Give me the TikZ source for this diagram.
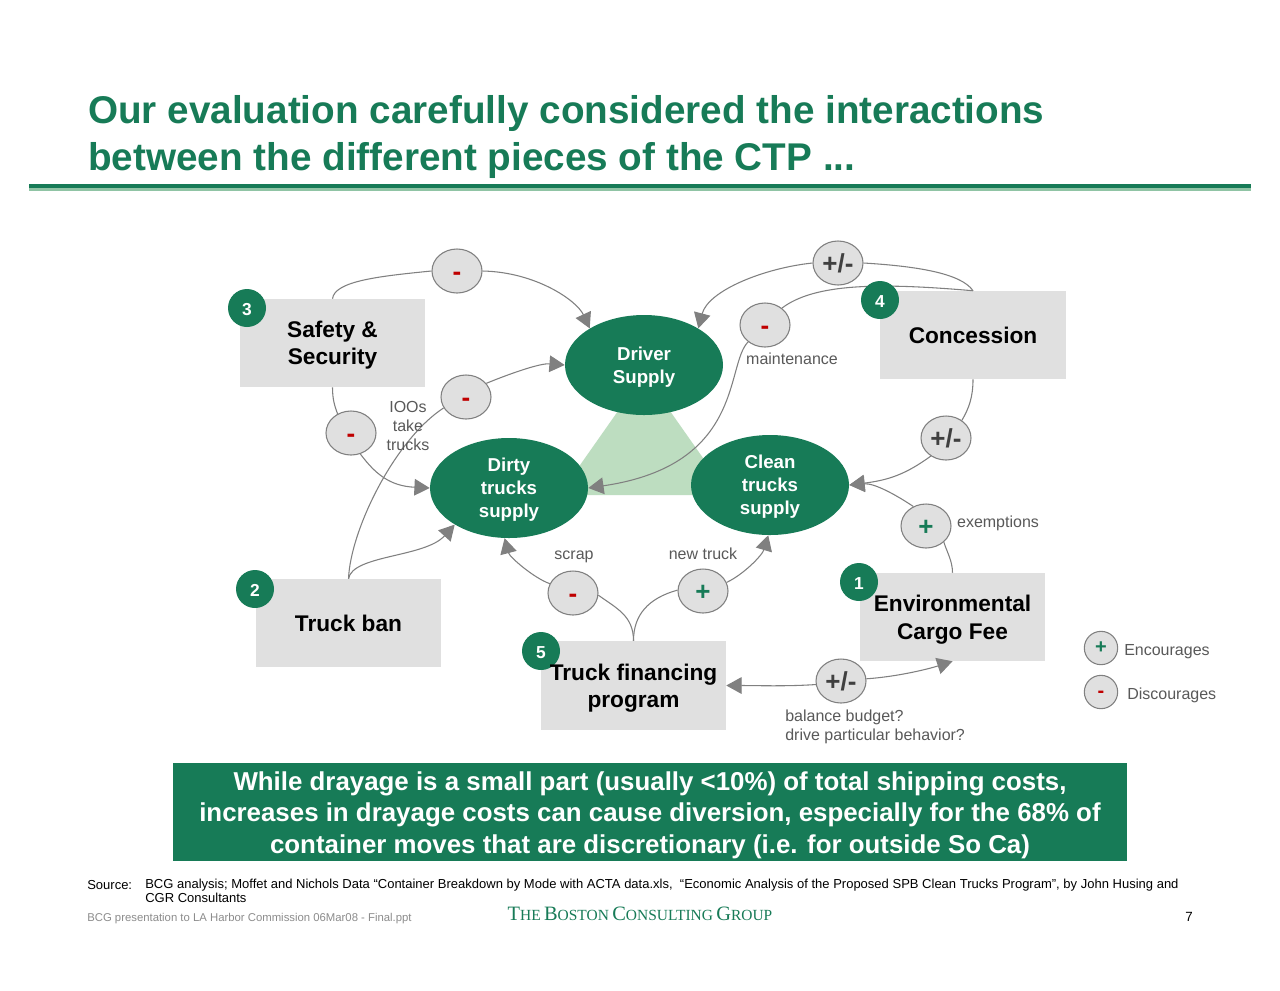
\documentclass[tikz,border=0pt]{standalone}
\usepackage{fontspec}
\setmainfont{Liberation Sans}
\newfontfamily\logofont{Liberation Serif}
\usetikzlibrary{shapes.geometric,arrows.meta}
\definecolor{bcg}{HTML}{177B57}
\definecolor{paleg}{HTML}{BDDDC0}
\definecolor{ruleg}{HTML}{90C4A5}
\definecolor{boxg}{HTML}{E0E0E0}
\definecolor{linkg}{HTML}{808080}
\definecolor{lab}{HTML}{595959}
\definecolor{signr}{HTML}{C00000}
\definecolor{signd}{HTML}{404040}
\newcommand{\pfs}[2]{\fontsize{#1}{#2}\selectfont}
\newcommand{\logoL}[1]{{\pfs{15.3}{15.5}#1}}
\newcommand{\logoS}[1]{{\pfs{11.6}{11.8}#1}}
\newcommand{\ovs}{\rule{0pt}{13pt}}
\tikzset{
  boxn/.style={fill=boxg,inner sep=0pt,minimum width=138.75pt,minimum height=66pt},
  boxt/.style={font=\bfseries\pfs{17}{20.5},align=center,text=black,inner sep=0pt,yshift=-1.5pt},
  oval/.style={ellipse,fill=bcg,text=white,font=\bfseries\pfs{14}{17.3},align=center,inner sep=0pt,minimum width=118.5pt,minimum height=75pt},
  sign/.style={ellipse,fill=boxg,draw=linkg,line width=0.8pt,inner sep=0pt,minimum width=37.5pt,minimum height=33pt,font=\bfseries\pfs{19.5}{20},text height=17pt,text depth=3.5pt},
  legs/.style={sign,minimum width=25pt,minimum height=25pt,font=\bfseries\pfs{15}{16},text height=11.5pt,text depth=3pt},
  badge/.style={circle,fill=bcg,text=white,font=\bfseries\pfs{13}{13},inner sep=0pt,minimum size=28.5pt,text height=11.5pt,text depth=0pt},
  lbl/.style={text=lab,font=\pfs{12}{14.4},inner sep=0pt,align=left},
  link/.style={draw=linkg,line width=0.8pt},
  tip/.style={link,-{Triangle[length=11.5pt,width=12.5pt,fill=linkg]}},
}
\begin{document}
\begin{tikzpicture}[x=0.75pt,y=-0.75pt]
\useasboundingbox (0,0) rectangle (1280,990);
\fill[white] (0,0) rectangle (1280,990);

% title
\node[anchor=mid west,inner sep=0pt,text=bcg,font=\bfseries\pfs{29}{35}] (title1) at (88,120) {Our evaluation carefully considered the interactions};
\node[anchor=mid west,inner sep=0pt,text=bcg,font=\bfseries\pfs{29}{35}] (title2) at (88,167) {between the different pieces of the CTP ...};
\fill[bcg] (29,184) rectangle (1251,188.3);
\fill[ruleg] (29,188.3) rectangle (1251,191);

% triangle
\fill[paleg] (644,374) -- (559,495) -- (729,495) -- cycle;

% boxes
\node[boxn] (s3) at (332.5,343) {};
\node[boxn,minimum width=139.5pt] (c4) at (973,335) {};
\node[boxn] (b2) at (348.5,623) {};
\node[boxn] (e1) at (952.5,617) {};
\node[boxn,minimum height=66.75pt] (t5) at (633.5,685.5) {};

% ovals
\node[oval] (driver) at (644,365) {\ovs Driver\\Supply};
\node[oval] (dirty) at (509,488) {\ovs Dirty\\trucks\\supply};
\node[oval] (clean) at (770,485) {\ovs Clean\\trucks\\supply};

% signs
\node[sign,text=signr] (m1) at (457,271) {-};
\node[sign,text=signr] (m2) at (466,397) {-};
\node[sign,text=signr] (m3) at (351,433) {-};
\node[sign,text=signr] (m5) at (765,325) {-};
\node[sign,text=signd] (m4) at (838,263) {+/-};
\node[sign,text=signd] (m6) at (946,438) {+/-};
\node[sign,text=bcg] (m7) at (926,526) {+};
\node[sign,text=signr] (m8) at (573,593) {-};
\node[sign,text=bcg] (m9) at (703,591) {+};
\node[sign,text=signd] (m10) at (841,681) {+/-};

% connectors
\draw[link] (s3.north) .. controls +(2,-18) and +(-50,5) .. (m1.west);
\draw[tip] (m1.east) .. controls +(53,1) and +(-13,-28) .. (driver.146);
\draw[link] (s3.south) .. controls +(0,12) and +(-3,-8) .. (m3.125);
\draw[tip] (m3.294) .. controls +(15,20) and +(-40,-2) .. (dirty.west);
\draw[link] (b2.north) .. controls +(2,-49) and +(-49,32) .. (m2.206);
\draw[tip] (m2.34) .. controls +(22,-9) and +(-25,-2) .. (driver.west);
\draw[tip] (b2.north) .. controls +(4,-24) and +(-30,33) .. (dirty.214);
\draw[link] (c4.north) .. controls +(-12,-18) and +(50,3) .. (m4.east);
\draw[tip] (m4.west) .. controls +(-48,5) and +(10,-38) .. (driver.34);
\draw[link] (c4.north) .. controls +(-93,-8) and +(33,-25) .. (m5.45);
\draw[tip] (m5.225) .. controls +(-23,23) and +(157,-23) .. (dirty.east);
\draw[link] (c4.south) .. controls +(0,18) and +(7,-12) .. (m6.48);
\draw[tip] (m6.230) .. controls +(-25,18) and +(40,-5) .. (clean.east);
\draw[link] (e1.north) .. controls +(0,-12) and +(3,10) .. (m7.318);
\draw[tip] (m7.123) .. controls +(-18,-12) and +(25,-2) .. (clean.east);
\draw[link] (t5.north) .. controls +(0,-25) and +(18,13) .. (m8.355);
\draw[tip] (m8.158) .. controls +(-15,-5) and +(5,19) .. (dirty.265);
\draw[link] (t5.north) .. controls +(0,-26) and +(-29,8) .. (m9.178);
\draw[tip] (m9.20) .. controls +(17,-8) and +(-6,20) .. (clean.268);
\draw[tip] (m10.188) .. controls +(-30,2) and +(30,0) .. (t5.east);
\draw[tip] (m10.5) .. controls +(30,-2) and +(-25,8) .. (e1.south);

% badges
\node[badge] (n3) at (247,308) {3};
\node[badge] (n4) at (880,300) {4};
\node[badge] (n2) at (255,589) {2};
\node[badge] (n1) at (859,582) {1};
\node[badge] (n5) at (541,651) {5};

% box texts
\node[boxt] (ts) at (s3.center) {Safety \&\\Security};
\node[boxt,yshift=1.5pt] (tc) at (c4.center) {Concession};
\node[boxt,yshift=1.5pt] (tb) at (b2.center) {Truck ban};
\node[boxt,yshift=-0.6pt] (te) at (e1.center) {Environmental\\Cargo Fee};
\node[boxt,yshift=-0.6pt] (tt) at (t5.center) {Truck financing\\program};

% labels
\node[lbl,anchor=mid] (la) at (792,361) {maintenance};
\node[lbl,anchor=mid] (lb) at (998,524) {exemptions};
\node[lbl,anchor=mid] (lc) at (574,556) {scrap};
\node[lbl,anchor=mid] (ld) at (703,556) {new truck};
\node[lbl,anchor=west] (le) at (785,726.5) {balance budget?\\drive particular behavior?};
\node[lbl,align=center] (lf) at (408,426) {IOOs\\take\\trucks};

% legend
\node[legs,text=bcg] (lp) at (1101,648) {+};
\node[legs,text=signr] (lm) at (1101,692) {-};
\node[lbl,anchor=mid west] (le1) at (1124,652) {Encourages};
\node[lbl,anchor=mid west] (le2) at (1127,696) {Discourages};

% banner
\node[fill=bcg,text=white,inner sep=0pt,minimum width=715.5pt,minimum height=73.5pt,align=center,font=\bfseries\pfs{19.4}{23.6}] (banner) at (650,812) {\rule{0pt}{18.5pt}While drayage is a small part (usually <10\%) of total shipping costs,\\increases in drayage costs can cause diversion, especially for the 68\% of\\container moves that are discretionary (i.e. for outside So Ca)};

% footer
\node[anchor=north west,inner sep=0pt,font=\pfs{9.76}{10.5},align=left] (src) at (87,880.5) {Source:};
\node[anchor=north west,inner sep=0pt,font=\pfs{9.76}{10.5},align=left] (srct) at (145,878.5) {BCG analysis; Moffet and Nichols Data “Container Breakdown by Mode with ACTA data.xls,\ \ “Economic Analysis of the Proposed SPB Clean Trucks Program”, by John Husing and\\CGR Consultants};
\node[anchor=mid west,inner sep=0pt,text=black!45,font=\pfs{8.5}{10}] (file) at (87,918) {BCG presentation to LA Harbor Commission 06Mar08 - Final.ppt};
\node[anchor=mid,inner sep=0pt,text=bcg,font=\logofont] (logo) at (640,917) {\logoL{T}\logoS{HE} \logoL{B}\logoS{OSTON} \logoL{C}\logoS{ONSULTING} \logoL{G}\logoS{ROUP}};
\node[anchor=mid,inner sep=0pt,font=\pfs{10}{10}] (pg) at (1189,918) {7};
\end{tikzpicture}
\end{document}
